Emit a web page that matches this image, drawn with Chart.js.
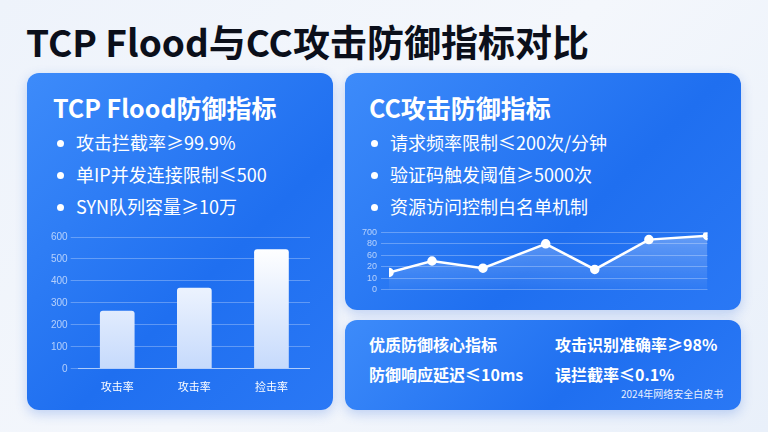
<!DOCTYPE html>
<html>
<head>
<meta charset="utf-8">
<script src="https://cdn.jsdelivr.net/npm/chart.js@4"></script>
<style>
body { margin:0; width:768px; height:432px; overflow:hidden; font-family:"Noto Sans CJK SC","Noto Sans",sans-serif;
  background:linear-gradient(135deg,#eef3fb,#f4f7fc 50%,#e9f0fa); position:relative; }
.title { position:absolute; left:26px; top:14px; font-size:37px; font-weight:700; color:#0b0f1a; }
.panel { position:absolute; border-radius:12px; background:linear-gradient(135deg,#3d8bfa,#1f6ff0 60%,#2a78f5); color:#fff;
  box-shadow:0 4px 12px rgba(40,100,220,0.25); }
.h { position:absolute; font-size:25px; font-weight:700; }
.li { position:absolute; font-size:18px; }
.li:before { content:""; display:inline-block; width:7px; height:7px; border-radius:50%; background:#fff; margin:0 12px 4px 4px; vertical-align:middle; }
.b { position:absolute; font-size:16px; font-weight:700; }
canvas { position:absolute; }
</style>
</head>
<body>
<div class="title">TCP Flood与CC攻击防御指标对比</div>

<div class="panel" style="left:27px;top:73px;width:306px;height:337px;">
  <div class="h" style="left:26px;top:16px;">TCP Flood防御指标</div>
  <div class="li" style="left:26px;top:56px;">攻击拦截率≥99.9%</div>
  <div class="li" style="left:26px;top:88px;">单IP并发连接限制≤500</div>
  <div class="li" style="left:26px;top:120px;">SYN队列容量≥10万</div>
</div>
<canvas id="barChart" style="left:48px;top:228px;" width="262" height="168"></canvas>

<div class="panel" style="left:345px;top:73px;width:396px;height:237px;">
  <div class="h" style="left:24px;top:16px;">CC攻击防御指标</div>
  <div class="li" style="left:22px;top:56px;">请求频率限制≤200次/分钟</div>
  <div class="li" style="left:22px;top:88px;">验证码触发阈值≥5000次</div>
  <div class="li" style="left:22px;top:120px;">资源访问控制白名单机制</div>
</div>
<canvas id="lineChart" style="left:358px;top:223px;" width="356" height="76"></canvas>

<div class="panel" style="left:345px;top:320px;width:396px;height:90px;">
  <div class="b" style="left:24px;top:12px;">优质防御核心指标</div>
  <div class="b" style="left:210px;top:12px;">攻击识别准确率≥98%</div>
  <div class="b" style="left:24px;top:42px;">防御响应延迟≤10ms</div>
  <div class="b" style="left:210px;top:42px;">误拦截率≤0.1%</div>
  <div style="position:absolute;left:276px;top:66px;font-size:10px;color:#e6efff;">2024年网络安全白皮书</div>
</div>

<script>
// bar chart data
const barLabels = ["攻击率", "攻击率", "捡击率"];
const barValues = [264, 369, 544];

// line chart data (y in grid steps, tick labels as shown)
const lineX = [0, 0.135, 0.295, 0.492, 0.646, 0.816, 1];
const lineY = [1.5, 2.5, 1.87, 4.0, 1.76, 4.37, 4.71];
const lineTicks = ["0", "10", "20", "60", "80", "700"];

const gridColor = "rgba(255,255,255,0.28)";
const tickColor = "rgba(225,236,255,0.75)";

let bctx = document.getElementById("barChart").getContext("2d");
let barGrad = bctx.createLinearGradient(0, 20, 0, 140);
barGrad.addColorStop(0, "#ffffff");
barGrad.addColorStop(1, "#c6dafc");

new Chart(bctx, {
    type: "bar",
    data: {
        labels: barLabels,
        datasets: [{ data: barValues, backgroundColor: barGrad, borderRadius: 3, barPercentage: 0.45, categoryPercentage: 1 }]
    },
    options: {
        responsive: false, animation: false,
        plugins: { legend: { display: false }, tooltip: { enabled: false } },
        scales: {
            y: { min: 0, max: 600, ticks: { stepSize: 100, color: tickColor, font: { size: 10 } },
                 grid: { color: gridColor }, border: { display: false } },
            x: { ticks: { color: "#ffffff", font: { size: 11, family: "Noto Sans CJK SC" } },
                 grid: { display: false }, border: { color: "rgba(255,255,255,0.5)" } }
        }
    }
});

let lctx = document.getElementById("lineChart").getContext("2d");
let fillGrad = lctx.createLinearGradient(0, 0, 0, 70);
fillGrad.addColorStop(0, "rgba(255,255,255,0.35)");
fillGrad.addColorStop(1, "rgba(255,255,255,0.02)");

new Chart(lctx, {
    type: "line",
    data: {
        datasets: [{
            data: lineX.map((x, i) => ({ x: x, y: lineY[i] })),
            borderColor: "#ffffff", borderWidth: 2.5, fill: true, backgroundColor: fillGrad,
            pointRadius: 3.5, pointBackgroundColor: "#ffffff", pointBorderColor: "#ffffff", tension: 0
        }]
    },
    options: {
        responsive: false, animation: false,
        layout: { padding: { right: 4, top: 4 } },
        plugins: { legend: { display: false }, tooltip: { enabled: false } },
        scales: {
            x: { type: "linear", min: 0, max: 1, display: false },
            y: { min: 0, max: 5, ticks: { stepSize: 1, autoSkip: false, padding: 4, color: tickColor, font: { size: 9 },
                   callback: v => lineTicks[v] },
                 grid: { color: gridColor }, border: { display: false } }
        }
    }
});
</script>
</body>
</html>
